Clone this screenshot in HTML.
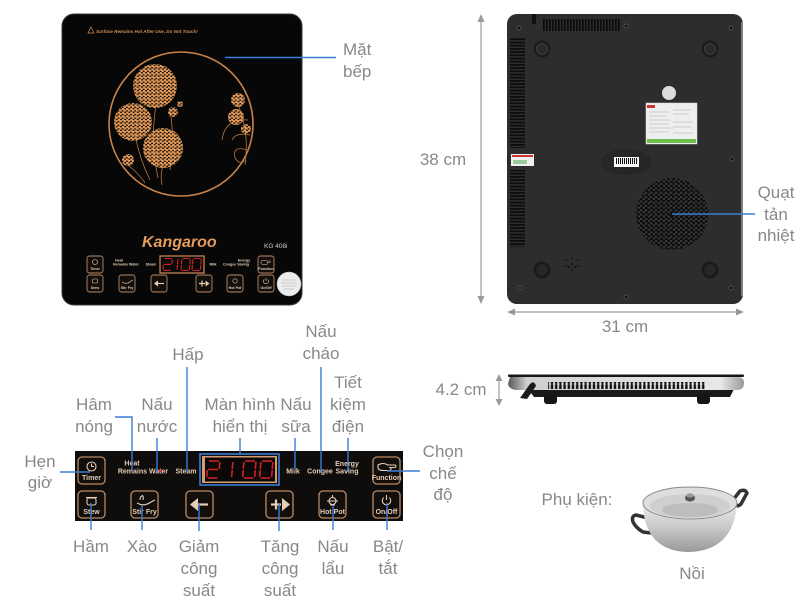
<!DOCTYPE html>
<html><head><meta charset="utf-8"><style>
html,body{margin:0;padding:0;background:#fff;}
svg{display:block}
.lb{font-family:"Liberation Sans",sans-serif;font-size:17px;fill:#888;}
.bl{stroke:#3a7dd3;stroke-width:1.4;fill:none}
.bt{fill:#120e0c;stroke:#b98a66;stroke-width:1.3}
.mb{fill:#120e0c;stroke:#b98a66;stroke-width:0.9}
.pt{font-family:"Liberation Sans",sans-serif;font-size:7px;font-weight:bold;fill:#e6cdb4;text-anchor:middle}
.mt{font-family:"Liberation Sans",sans-serif;font-size:3.6px;font-weight:bold;fill:#e6cdb4;text-anchor:middle}
.ic{stroke:#e6cdb4;fill:none;stroke-width:1.1}
.dim{stroke:#9a9a9a;stroke-width:1.2;fill:none}
</style></head><body>
<svg width="800" height="600" viewBox="0 0 800 600" xmlns="http://www.w3.org/2000/svg">
<defs>
 <pattern id="fl" width="4.2" height="3.6" patternUnits="userSpaceOnUse"><circle cx="1.05" cy="0.9" r="1.45" fill="#e39a58"/><circle cx="3.15" cy="2.7" r="1.45" fill="#e39a58"/></pattern>
 <pattern id="hex" width="5" height="4.4" patternUnits="userSpaceOnUse"><rect width="5" height="4.4" fill="#3c3c3e"/><circle cx="1.25" cy="1.1" r="1.6" fill="#0e0e0e"/><circle cx="3.75" cy="3.3" r="1.6" fill="#0e0e0e"/></pattern>
 <pattern id="hs" width="15" height="3.2" patternUnits="userSpaceOnUse"><rect width="15" height="1.8" fill="#0c0c0c"/></pattern>
 <pattern id="vs" width="3" height="12" patternUnits="userSpaceOnUse"><rect width="1.7" height="12" fill="#0c0c0c"/></pattern>
 <pattern id="sv" width="4.2" height="8" patternUnits="userSpaceOnUse"><rect x="0.6" width="2.4" height="8" rx="1" fill="#111"/></pattern>
 <pattern id="bc" width="2" height="10" patternUnits="userSpaceOnUse"><rect width="1" height="10" fill="#111"/></pattern>
 <linearGradient id="silverL" x1="0" y1="0" x2="1" y2="0"><stop offset="0" stop-color="#555"/><stop offset="0.08" stop-color="#cfcfcf"/><stop offset="0.9" stop-color="#e8e8e8"/><stop offset="1" stop-color="#999"/></linearGradient>
 <linearGradient id="pot" x1="0" y1="0" x2="0" y2="1"><stop offset="0" stop-color="#ececec"/><stop offset="0.5" stop-color="#c8c8c8"/><stop offset="1" stop-color="#9a9a9a"/></linearGradient>
 <g id="d2" fill="none" stroke="#d42222" stroke-width="1.6"><path d="M1,0H11M12,1V8M1,8.5H11M0,9V16M1,17H11"/></g>
 <g id="d1" fill="none" stroke="#d42222" stroke-width="1.6"><path d="M12,1V8M12,9V16"/></g>
 <g id="d0" fill="none" stroke="#d42222" stroke-width="1.6"><path d="M1,0H11M12,1V8M12,9V16M1,17H11M0,9V16M0,1V8"/></g>
</defs>

<!-- ===== FRONT COOKER ===== -->
<rect x="62" y="14" width="240" height="291" rx="12" fill="#070707" stroke="#3a3a3a" stroke-width="1"/>
<path d="M88,33 l3,-6 l3,6 z" fill="none" stroke="#d28c52" stroke-width="0.7"/>
<text x="96" y="33" font-family="Liberation Sans,sans-serif" font-size="4.6" font-style="italic" font-weight="bold" fill="#d28c52">Surface Remains Hot After Use, Do Not Touch!</text>
<circle cx="181" cy="124" r="72" fill="none" stroke="#c9834a" stroke-width="1.6"/>
<g stroke="#b8733f" stroke-width="0.8" fill="none">
 <path d="M156,105 Q150,140 158,178"/><path d="M135,135 Q140,160 150,180"/><path d="M163,165 Q160,175 162,185"/>
 <path d="M128,165 Q140,175 145,183"/><path d="M170,110 Q175,140 170,170"/>
 <path d="M236,100 Q250,130 245,165"/><path d="M248,120 Q225,118 222,140"/>
 <path d="M247,150 Q232,145 235,158 Q240,166 246,160"/><path d="M250,135 Q236,132 232,140"/>
</g>
<circle cx="155" cy="86" r="22" fill="url(#fl)"/>
<circle cx="133" cy="122" r="19" fill="url(#fl)"/>
<circle cx="163" cy="148" r="20" fill="url(#fl)"/>
<circle cx="128" cy="160" r="6" fill="url(#fl)"/>
<circle cx="173" cy="112" r="5" fill="url(#fl)"/>
<circle cx="180" cy="104" r="3" fill="url(#fl)"/>
<circle cx="238" cy="100" r="7" fill="url(#fl)"/>
<circle cx="236" cy="117" r="8" fill="url(#fl)"/>
<circle cx="246" cy="129" r="5" fill="url(#fl)"/>
<text x="142" y="247" font-family="Liberation Sans,sans-serif" font-size="16" font-weight="bold" font-style="italic" fill="#e59b5b">Kangaroo</text>
<text x="264" y="248" font-family="Liberation Sans,sans-serif" font-size="6.5" fill="#cfcfcf">KG 408i</text>
<!-- mini panel -->
<rect x="87" y="256" width="16" height="17" rx="2.5" class="mb"/>
<circle cx="95" cy="262" r="2.5" fill="none" stroke="#e6cdb4" stroke-width="0.6"/>
<text x="95" y="270" class="mt">Timer</text>
<rect x="258" y="256" width="16" height="17" rx="2.5" class="mb"/>
<path d="M261,261 q3,-1.5 6,0 h3 q1,1 0,1.5 h-3 q1,1 0,2 h-4 q-2,0 -2,-1.5z" fill="none" stroke="#e6cdb4" stroke-width="0.5"/>
<text x="266" y="270" class="mt">Function</text>
<rect x="87" y="275" width="16" height="17" rx="2.5" class="mb"/>
<rect x="92.5" y="279" width="5" height="4" rx="1" fill="none" stroke="#e6cdb4" stroke-width="0.6"/>
<text x="95" y="289" class="mt">Stew</text>
<rect x="119" y="275" width="16" height="17" rx="2.5" class="mb"/>
<path d="M122,282 q5,3 9,-1 l2,-1" fill="none" stroke="#e6cdb4" stroke-width="0.6"/>
<text x="127" y="289" class="mt">Stir Fry</text>
<rect x="151" y="275" width="16" height="17" rx="2.5" class="mb"/>
<path d="M154,283.5 l4,-3 v6 z" fill="#e6cdb4"/><path d="M158,283.5 h6" stroke="#e6cdb4" stroke-width="1.2"/>
<rect x="196" y="275" width="16" height="17" rx="2.5" class="mb"/>
<path d="M199,283.5 h6 M202,280.5 v6" stroke="#e6cdb4" stroke-width="1.2"/><path d="M205.5,280.5 l4,3 l-4,3 z" fill="#e6cdb4"/>
<rect x="227" y="275" width="16" height="17" rx="2.5" class="mb"/>
<circle cx="235" cy="281" r="2.2" fill="none" stroke="#e6cdb4" stroke-width="0.6"/>
<text x="235" y="289" class="mt">Hot Pot</text>
<rect x="258" y="275" width="16" height="17" rx="2.5" class="mb"/>
<path d="M264.3,279.5 a2.5,2.5 0 1 0 3.4,0 M266,278 v3" fill="none" stroke="#e6cdb4" stroke-width="0.6"/>
<text x="266" y="289" class="mt">On/Off</text>
<rect x="160" y="256" width="44" height="17" fill="#0a0a0a" stroke="#d08d5a" stroke-width="1.2"/>
<g transform="translate(164,258.5) scale(0.7) skewX(-5)"><use href="#d2"/></g>
<g transform="translate(169.6,258.5) scale(0.7) skewX(-5)"><use href="#d1"/></g>
<g transform="translate(182,258.5) scale(0.7) skewX(-5)"><use href="#d0"/></g>
<g transform="translate(193,258.5) scale(0.7) skewX(-5)"><use href="#d0"/></g>
<text x="119" y="261.5" class="mt">Heat</text>
<text x="126" y="265.5" class="mt">Remains Water</text>
<text x="151" y="265.5" class="mt">Steam</text>
<text x="213" y="265.5" class="mt">Milk</text>
<text x="236" y="265.5" class="mt">Congee Saving</text>
<text x="244" y="261.5" class="mt">Energy</text>
<circle cx="289" cy="284" r="12" fill="#ececec" stroke="#bbb" stroke-width="0.5"/>
<g stroke="#aaa" stroke-width="0.6"><path d="M282,280h14M281,283h16M282,286h14M284,289h10"/></g>

<line x1="225" y1="57.5" x2="336" y2="57.5" class="bl"/>
<text x="343" y="55" class="lb">Mặt</text>
<text x="343" y="77" class="lb">bếp</text>

<!-- ===== BACK VIEW ===== -->
<rect x="507" y="14" width="236" height="290" rx="10" fill="#2d2d2f"/>
<path d="M742,22 V296" stroke="#9a9a9a" stroke-width="1.5"/>
<rect x="510" y="37" width="15" height="111" fill="url(#hs)"/>
<rect x="510" y="170" width="15" height="77" fill="url(#hs)"/>
<rect x="543" y="19" width="78" height="12" fill="url(#vs)"/>
<path d="M532,14 v10 h4 v-10z" fill="#111"/>
<g fill="#111" stroke="#666" stroke-width="0.7">
 <circle cx="519" cy="28" r="2"/><circle cx="626" cy="26" r="2"/><circle cx="731" cy="28" r="2"/>
 <circle cx="732" cy="159" r="2"/><circle cx="520" cy="288" r="2"/><circle cx="626" cy="297" r="2"/><circle cx="731" cy="288" r="2"/>
</g>
<g><circle cx="542" cy="49" r="8.5" fill="#1b1b1b"/><circle cx="542" cy="49" r="5.5" fill="#2a2a2a" stroke="#444" stroke-width="0.8"/>
<circle cx="710" cy="49" r="8.5" fill="#1b1b1b"/><circle cx="710" cy="49" r="5.5" fill="#2a2a2a" stroke="#444" stroke-width="0.8"/>
<circle cx="542" cy="270" r="8.5" fill="#1b1b1b"/><circle cx="542" cy="270" r="5.5" fill="#262626"/>
<circle cx="710" cy="270" r="8.5" fill="#1b1b1b"/><circle cx="710" cy="270" r="5.5" fill="#262626"/></g>
<circle cx="669" cy="93" r="7" fill="#dcdcdc"/>
<rect x="646" y="103" width="51" height="41" fill="#eeeeee" stroke="#ddd" stroke-width="0.5"/>
<rect x="647" y="139" width="49" height="4" fill="#6cbf4a"/>
<rect x="647" y="105" width="8" height="3" fill="#c33"/>
<g stroke="#aaa" stroke-width="0.6"><path d="M649,112h20M649,116h18M649,120h22M649,124h20M649,128h24M649,132h20M673,110h18M673,114h16M673,122h20M673,127h18M673,133h20"/></g>
<ellipse cx="626" cy="162" rx="25" ry="13" fill="#262628"/>
<rect x="614" y="157" width="25" height="10" fill="#f5f5f5"/>
<rect x="616" y="158" width="21" height="6" fill="url(#bc)"/>
<rect x="511" y="154" width="23" height="12" fill="#f0f0f0"/>
<rect x="512" y="155" width="21" height="2" fill="#c33"/><rect x="513" y="160" width="14" height="4" fill="#9c9"/>
<circle cx="672" cy="214" r="36" fill="url(#hex)"/>
<circle cx="672" cy="214" r="3" fill="#111"/>
<g fill="#151515"><circle cx="566" cy="260" r="1"/><circle cx="572" cy="258" r="1"/><circle cx="578" cy="260" r="1"/><circle cx="566" cy="266" r="1"/><circle cx="572" cy="264" r="1"/><circle cx="578" cy="266" r="1"/><circle cx="572" cy="270" r="1"/><circle cx="569" cy="267" r="1"/><circle cx="575" cy="267" r="1"/></g>
<line x1="672" y1="214" x2="755" y2="214" class="bl"/>
<text x="776" y="198" class="lb" text-anchor="middle">Quạt</text>
<text x="776" y="220" class="lb" text-anchor="middle">tản</text>
<text x="776" y="241" class="lb" text-anchor="middle">nhiệt</text>
<line x1="481" y1="18" x2="481" y2="300" class="dim"/>
<path d="M481,14 l-3.5,8 h7z M481,304 l-3.5,-8 h7z" fill="#9a9a9a"/>
<text x="443" y="165" class="lb" text-anchor="middle">38 cm</text>
<line x1="511" y1="312" x2="740" y2="312" class="dim"/>
<path d="M507,312 l8,-3.5 v7z M744,312 l-8,-3.5 v7z" fill="#9a9a9a"/>
<text x="625" y="332" class="lb" text-anchor="middle">31 cm</text>

<!-- ===== SIDE VIEW ===== -->
<path d="M528,389 H734 L730,397 H534 Z" fill="#1a1a1a"/>
<rect x="544" y="393" width="13" height="11" rx="3" fill="#161616"/>
<rect x="697" y="393" width="13" height="11" rx="3" fill="#161616"/>
<path d="M510,377 H738 Q744,377 744,383 Q744,390 737,390 H516 Q509,389 508,384 Z" fill="url(#silverL)"/>
<rect x="508" y="374.5" width="236" height="2.5" rx="1" fill="#151515"/>
<rect x="548" y="382" width="157" height="7" fill="url(#sv)"/>
<path d="M520,398 L530,384 Q534,380 536,386 L527,399 Z" fill="#1a1a1a"/>
<line x1="499" y1="378" x2="499" y2="402" class="dim"/>
<path d="M499,374 l-3.5,7 h7z M499,406 l-3.5,-7 h7z" fill="#9a9a9a"/>
<text x="461" y="395" class="lb" text-anchor="middle">4.2 cm</text>

<!-- ===== POT ===== -->
<text x="577" y="505" class="lb" text-anchor="middle">Phụ kiện:</text>
<path d="M733,500 l7,-9 q5,-2 7,2 l-6,11 q-3,3 -6,1" fill="none" stroke="#333" stroke-width="3.5" stroke-linejoin="round"/>
<path d="M648,518 l-12,-3 q-5,1 -3,7 q3,6 10,10 l8,1" fill="none" stroke="#333" stroke-width="3.5" stroke-linejoin="round"/>
<path d="M643,505 Q645,552 690,552 Q734,550 737,503 Z" fill="url(#pot)"/>
<ellipse cx="690" cy="503" rx="47" ry="16" fill="#dedede" stroke="#8a8a8a" stroke-width="1"/>
<ellipse cx="690" cy="506" rx="40" ry="12" fill="#cfcfcf"/>
<ellipse cx="690" cy="510" rx="28" ry="7" fill="#bdbdbd"/>
<ellipse cx="690" cy="498" rx="5" ry="3.5" fill="#555"/>
<ellipse cx="690" cy="495.5" rx="3.5" ry="2.2" fill="#999"/>
<text x="692" y="579" class="lb" text-anchor="middle">Nồi</text>

<!-- ===== CONTROL PANEL DETAIL ===== -->
<rect x="75" y="451" width="328" height="70" fill="#0f0d0c"/>
<rect x="78" y="457" width="27" height="27" rx="4" class="bt"/>
<circle cx="91.5" cy="466.5" r="4.5" class="ic"/><path d="M91.5,463.5 v3 h2.5" class="ic"/>
<text x="91.5" y="480" class="pt">Timer</text>
<rect x="373" y="457" width="27" height="27" rx="4" class="bt"/>
<path d="M378,465 q5,-3 10,0 h7 q2,1.5 0,2.5 h-5 q2,1.5 0,3 h-7 q-4,0 -5,-2.5z" class="ic"/>
<text x="386.5" y="480" class="pt" font-size="6.4">Function</text>
<rect x="78" y="491" width="27" height="27" rx="4" class="bt"/>
<rect x="87" y="498" width="9" height="7" rx="2" class="ic"/><path d="M86,497.5 h11" class="ic"/>
<text x="91.5" y="514" class="pt">Stew</text>
<rect x="131" y="491" width="27" height="27" rx="4" class="bt"/>
<path d="M137,503 q7,4 14,-1 l4,-2 M140,500 q0,-3 2,-4 M143,500 q1,-3 -1,-5" class="ic"/>
<text x="144.5" y="514" class="pt">Stir Fry</text>
<rect x="186" y="491" width="27" height="27" rx="4" class="bt"/>
<path d="M190,504.5 l8,-6.5 v13 z" fill="#e6cdb4"/><path d="M198,504.5 h10" stroke="#e6cdb4" stroke-width="2.2"/>
<rect x="266" y="491" width="27" height="27" rx="4" class="bt"/>
<path d="M271,504.5 h10 M276,499.5 v10" stroke="#e6cdb4" stroke-width="2.2"/><path d="M282,498 l8,6.5 l-8,6.5 z" fill="#e6cdb4"/>
<rect x="319" y="491" width="27" height="27" rx="4" class="bt"/>
<circle cx="332.5" cy="501" r="3.5" class="ic"/><path d="M327,501 h11 M330,505 h5 M332.5,495 v2" class="ic"/>
<text x="332.5" y="514" class="pt">Hot Pot</text>
<rect x="373" y="491" width="27" height="27" rx="4" class="bt"/>
<path d="M383.7,497.5 a4.2,4.2 0 1 0 5.6,0 M386.5,495 v5" class="ic"/>
<text x="386.5" y="514" class="pt">On/Off</text>
<rect x="202" y="456" width="75" height="27" fill="#d79a6a"/>
<rect x="205" y="457.5" width="70" height="24" fill="#0a0808"/>
<rect x="200" y="454" width="79" height="31" fill="none" stroke="#3a7dd3" stroke-width="1.6"/>
<g transform="translate(208,461) skewX(-5)"><use href="#d2"/></g>
<g transform="translate(221,461) skewX(-5)"><use href="#d1"/></g>
<g transform="translate(244,461) skewX(-5)"><use href="#d0"/></g>
<g transform="translate(261,461) skewX(-5)"><use href="#d0"/></g>
<text x="132" y="465.5" class="pt">Heat</text>
<text x="143" y="473.5" class="pt">Remains Water</text>
<circle cx="160" cy="471" r="1.5" fill="#e33"/>
<text x="186" y="473.5" class="pt">Steam</text>
<text x="293" y="473.5" class="pt">Milk</text>
<text x="320" y="473.5" class="pt">Congee</text>
<text x="347" y="466" class="pt">Energy</text>
<text x="347" y="473.5" class="pt">Saving</text>

<path d="M60,472 H90" class="bl"/>
<path d="M115,417 H132 V470" class="bl"/>
<path d="M157,438 V473" class="bl"/>
<path d="M187,367 V472" class="bl"/>
<path d="M240,438 V454" class="bl"/>
<path d="M295,438 V470" class="bl"/>
<path d="M321,367 V472" class="bl"/>
<path d="M348,438 V472" class="bl"/>
<path d="M387,471 H420" class="bl"/>
<path d="M91,503 V530" class="bl"/>
<path d="M142,505 V530" class="bl"/>
<path d="M199,503 V531" class="bl"/>
<path d="M279,503 V531" class="bl"/>
<path d="M333,505 V530" class="bl"/>
<path d="M387,503 V530" class="bl"/>

<g class="lb" text-anchor="middle">
<text x="40" y="467">Hẹn</text><text x="40" y="488">giờ</text>
<text x="94" y="410">Hâm</text><text x="94" y="432">nóng</text>
<text x="157" y="410">Nấu</text><text x="157" y="432">nước</text>
<text x="188" y="360">Hấp</text>
<text x="240" y="410">Màn hình</text><text x="240" y="432">hiển thị</text>
<text x="296" y="410">Nấu</text><text x="296" y="432">sữa</text>
<text x="321" y="337">Nấu</text><text x="321" y="359">cháo</text>
<text x="348" y="388">Tiết</text><text x="348" y="410">kiệm</text><text x="348" y="432">điện</text>
<text x="443" y="457">Chọn</text><text x="443" y="479">chế</text><text x="443" y="500">độ</text>
<text x="91" y="552">Hầm</text>
<text x="142" y="552">Xào</text>
<text x="199" y="552">Giảm</text><text x="199" y="574">công</text><text x="199" y="596">suất</text>
<text x="280" y="552">Tăng</text><text x="280" y="574">công</text><text x="280" y="596">suất</text>
<text x="333" y="552">Nấu</text><text x="333" y="574">lẩu</text>
<text x="388" y="552">Bật/</text><text x="388" y="574">tắt</text>
</g>
</svg>
</body></html>
